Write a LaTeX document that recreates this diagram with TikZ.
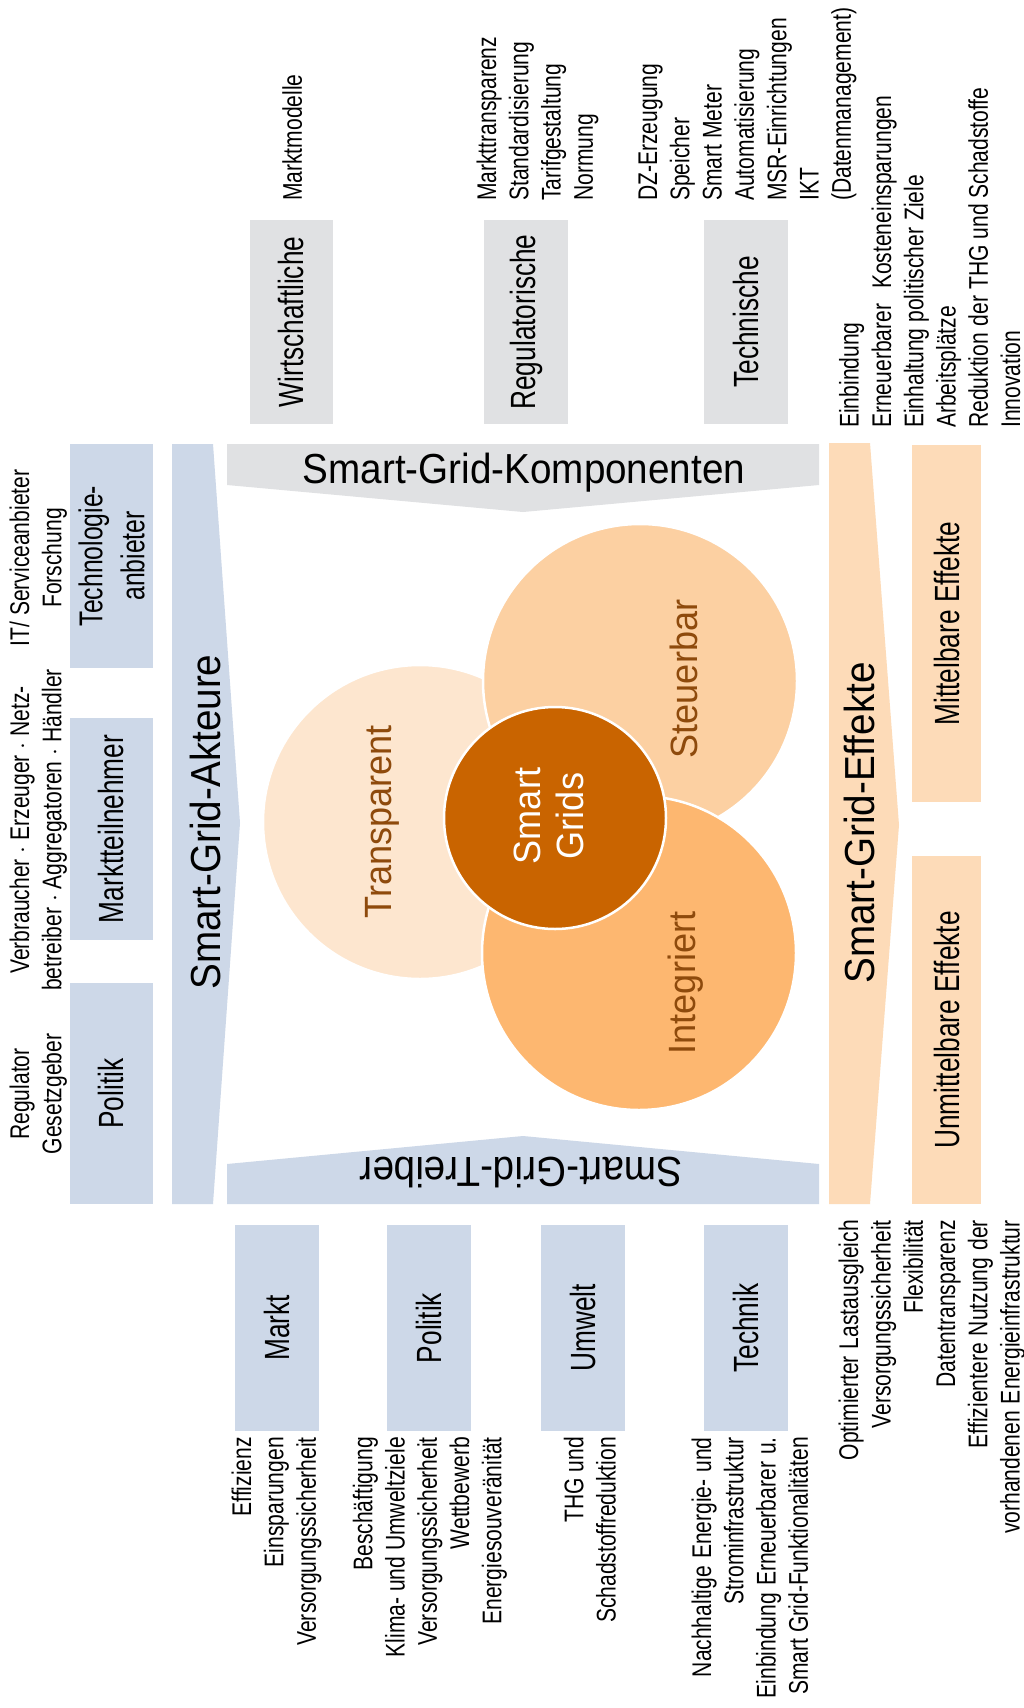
\documentclass[tikz,border=0pt]{standalone}
\usepackage{fontspec}
\setmainfont{Liberation Sans}
\newfontfamily\narfont[FakeStretch=0.78]{Liberation Sans}
\newfontfamily\labfont[FakeStretch=0.75]{Liberation Sans}
\newfontfamily\hdfont[FakeStretch=0.92]{Liberation Sans}
\newfontfamily\cirfont[FakeStretch=0.95]{Liberation Sans}
\definecolor{sgblue}{HTML}{CDD8E8}
\definecolor{sggray}{HTML}{E0E1E3}
\definecolor{sgpeach}{HTML}{FDDBB8}
\definecolor{cTrans}{HTML}{FDE6CF}
\definecolor{cSteu}{HTML}{FCD0A2}
\definecolor{cInt}{HTML}{FDB770}
\definecolor{cSG}{HTML}{C96400}
\definecolor{brownlab}{HTML}{8E4A0C}
\newcommand\gp{\hspace{7pt}}
\tikzset{
  lst/.style={font=\narfont\fontsize{27}{32.3}\selectfont, inner sep=0pt, rotate=90},
  boxlab/.style={rotate=90, inner sep=0pt, minimum height=83, font=\labfont\fontsize{35}{42}\selectfont},
  bluebox/.style={boxlab, fill=sgblue},
  graybox/.style={boxlab, fill=sggray},
  peachbox/.style={boxlab, fill=sgpeach, minimum height=69},
  hdg/.style={inner sep=0pt, font=\hdfont\fontsize{42}{48}\selectfont},
  clab/.style={inner sep=0pt, rotate=90, anchor=base, text=brownlab, font=\cirfont\fontsize{38}{43}\selectfont},
  ring/.style={draw=white, line width=2.5pt}
}
\begin{document}
\begin{tikzpicture}[x=1pt,y=-1pt]
\useasboundingbox (0,0) rectangle (1024,1708);
\fill[white] (0,0) rectangle (1024,1708);

% big arrows
\fill[sgblue] (172,444) -- (213,444) -- (240,823) -- (213,1204) -- (172,1204) -- cycle;
\fill[sggray] (227,444) -- (819,444) -- (819,485) -- (523,512) -- (227,485) -- cycle;
\fill[sgblue] (227,1204) -- (819,1204) -- (819,1164) -- (523,1136) -- (227,1164) -- cycle;
\fill[sgpeach] (829,443) -- (870,443) -- (899,825) -- (870,1204) -- (829,1204) -- cycle;

\node[hdg, anchor=base] (komp) at (524,483) {Smart-Grid-Komponenten};
\node[hdg, rotate=180, anchor=base] (treib) at (521,1157) {Smart-Grid-Treiber};
\node[hdg, rotate=90, anchor=base] (akt) at (220,822) {Smart-Grid-Akteure};
\node[hdg, rotate=90, anchor=base] (eff) at (874,823) {Smart-Grid-Effekte};

% circles
\fill[cTrans, ring] (420,822) circle[radius=157pt];
\fill[cSteu, ring] (640,681) circle[radius=157pt];
\fill[cInt, ring] (639,953) circle[radius=157pt];
\fill[cSG, ring] (555,818) circle[radius=111pt];

\node[clab] (trans) at (391,822) {Transparent};
\node[clab] (steu) at (697,679) {Steuerbar};
\node[clab] (integ) at (695,983) {Integriert};
\node[rotate=90, inner sep=0pt, text=white, align=center, font=\cirfont\fontsize{38}{43}\selectfont] (sg) at (553,816) {\strut Smart\\\strut Grids};

% Komponenten boxes and lists
\node[graybox, minimum width=204] (wirt) at (291,322) {Wirtschaftliche};
\node[graybox, minimum width=204, minimum height=84] (regu) at (526,322) {Regulatorische};
\node[graybox, minimum width=204, minimum height=84] (techn) at (746,322) {Technische};

\node[lst, anchor=west, align=left] (lwirt) at (295.5,201) {\strut Marktmodelle};
\node[lst, anchor=west, align=left] (lregu) at (538,201) {\strut Markttransparenz\\\strut Standardisierung\\\strut Tarifgestaltung\\\strut Normung};
\node[lst, anchor=west, align=left] (ltechn) at (747.5,201) {\strut DZ-Erzeugung\\\strut Speicher\\\strut Smart Meter\\\strut Automatisierung\\\strut MSR-Einrichtungen\\\strut IKT\\\strut (Datenmanagement)};

% Akteure boxes and lists
\node[bluebox, minimum width=224, align=center, font=\labfont\fontsize{33}{42}\selectfont] (tanb) at (111.5,556) {Technologie-\\anbieter};
\node[bluebox, minimum width=222] (mtn) at (111,829) {Marktteilnehmer};
\node[bluebox, minimum width=221] (pol) at (111,1093.5) {Politik};

\node[lst, align=center] (ltanb) at (38.7,558) {\strut IT/ Serviceanbieter\\\strut Forschung};
\node[lst, align=center] (lmtn) at (38.7,830) {\strut Verbraucher $\cdot$ Erzeuger $\cdot$ Netz-\\\strut betreiber $\cdot$ Aggregatoren $\cdot$ H\"andler};
\node[lst, align=center] (lpol) at (38.7,1094) {\strut Regulator\\\strut Gesetzgeber};

% Treiber boxes and lists
\node[bluebox, minimum width=206, minimum height=84] (markt) at (277,1328) {Markt};
\node[bluebox, minimum width=206, minimum height=84] (polt) at (429,1328) {Politik};
\node[bluebox, minimum width=206, minimum height=84] (umw) at (583,1328) {Umwelt};
\node[bluebox, minimum width=206, minimum height=84] (tech) at (746,1328) {Technik};

\node[lst, anchor=east, align=right] (lmarkt) at (277,1437) {\strut Effizienz\\\strut Einsparungen\\\strut Versorgungssicherheit};
\node[lst, anchor=east, align=right] (lpolt) at (430.4,1437) {\strut Besch\"aftigung\\\strut Klima- und Umweltziele\\\strut Versorgungssicherheit\\\strut Wettbewerb\\\strut Energiesouver\"anit\"at};
\node[lst, anchor=east, align=right] (lumw) at (593,1437) {\strut THG und\\\strut Schadstoffreduktion};
\node[lst, anchor=east, align=right] (ltech) at (753,1437) {\strut Nachhaltige\gp Energie-\gp und\\\strut Strominfrastruktur\\\strut Einbindung\gp Erneuerbarer\gp u.\\\strut Smart Grid-Funktionalit\"aten};

% Effekte boxes and lists
\node[peachbox, minimum width=357] (mitt) at (946.5,623.5) {Mittelbare Effekte};
\node[peachbox, minimum width=348] (unmitt) at (946.5,1030) {Unmittelbare Effekte};

\node[lst, anchor=west, align=left] (lmitt) at (933,428) {\strut Einbindung\\\strut Erneuerbarer\hspace{9pt} Kosteneinsparungen\\\strut Einhaltung politischer\gp Ziele\\\strut Arbeitspl\"atze\\\strut Reduktion\gp der THG und Schadstoffe\\\strut Innovation};
\node[lst, anchor=east, align=right] (lunmitt) at (932.5,1220) {\strut Optimierter\gp Lastausgleich\\\strut Versorgungssicherheit\\\strut Flexibilit\"at\\\strut Datentransparenz\\\strut Effizientere\gp Nutzung\gp der\\\strut vorhandenen\gp Energieinfrastruktur};
\end{tikzpicture}
\end{document}
